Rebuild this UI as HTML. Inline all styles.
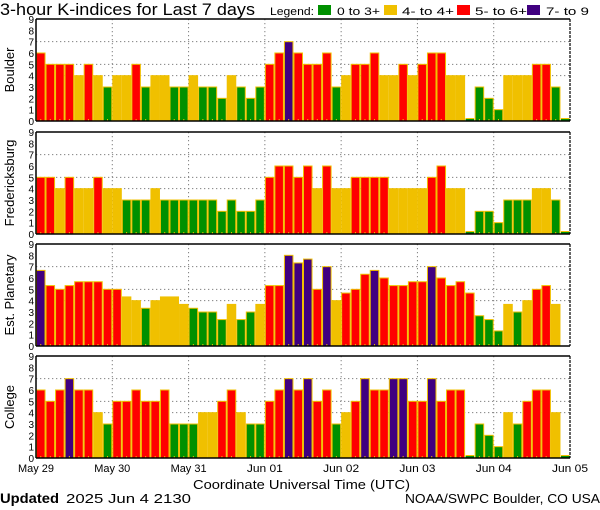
<!DOCTYPE html>
<html><head><meta charset="utf-8"><style>
html,body{margin:0;padding:0;background:#fff;width:600px;height:510px;overflow:hidden}
svg text{font-family:"Liberation Sans","DejaVu Sans",sans-serif;fill:#000}
</style></head><body>
<svg id="s" width="600" height="510" xmlns="http://www.w3.org/2000/svg">
<text x="0" y="15" font-size="17" textLength="255" lengthAdjust="spacingAndGlyphs">3-hour K-indices for Last 7 days</text>
<text x="270" y="15" font-size="11" textLength="44" lengthAdjust="spacingAndGlyphs">Legend:</text>
<rect x="318" y="5" width="13" height="10" fill="#009000"/><text x="337" y="15" font-size="11" textLength="43" lengthAdjust="spacingAndGlyphs">0 to 3+</text>
<rect x="384" y="5" width="13" height="10" fill="#f0c000"/><text x="402" y="15" font-size="11" textLength="52" lengthAdjust="spacingAndGlyphs">4- to 4+</text>
<rect x="457" y="5" width="13" height="10" fill="#ff0000"/><text x="475" y="15" font-size="11" textLength="52" lengthAdjust="spacingAndGlyphs">5- to 6+</text>
<rect x="527" y="5" width="13" height="10" fill="#400080"/><text x="546" y="15" font-size="11" textLength="43" lengthAdjust="spacingAndGlyphs">7- to 9</text>
<text x="193" y="489" font-size="13" textLength="217" lengthAdjust="spacingAndGlyphs">Coordinate Universal Time (UTC)</text>
<text x="0" y="503" font-size="14" font-weight="bold" font-family="Liberation Serif,serif" textLength="59" lengthAdjust="spacingAndGlyphs">Updated</text>
<text x="66" y="503" font-size="13" textLength="125" lengthAdjust="spacingAndGlyphs">2025 Jun  4 2130</text>
<text x="405" y="503" font-size="13" textLength="195" lengthAdjust="spacingAndGlyphs">NOAA/SWPC Boulder, CO USA</text>
</svg>
<script>
var s=document.getElementById('s'),NS='http://www.w3.org/2000/svg';
function el(t,a,txt){var e=document.createElementNS(NS,t);for(var k in a)e.setAttribute(k,a[k]);if(txt!=null)e.textContent=txt;s.appendChild(e);return e;}
var z=0.22;
var data=[
["Boulder",19,[6,5,5,5,4,5,4,3, 4,4,5,3,4,4,3,3, 4,3,3,2,4,3,2,3, 5,6,7,6,5,5,6,3, 4,5,5,6,4,4,5,4, 5,6,6,4,4,z,3,2, 1,4,4,4,5,5,3,z]],
["Fredericksburg",132,[5,5,4,5,4,4,5,4, 4,3,3,3,4,3,3,3, 3,3,3,2,3,2,2,3, 5,6,6,5,6,4,6,4, 4,5,5,5,5,4,4,4, 4,5,6,4,4,z,2,2, 1,3,3,3,4,4,3,z]],
["Est. Planetary",244,[6.67,5.33,5,5.33,5.67,5.67,5.67,5, 5,4.33,4,3.33,4,4.33,4.33,3.67, 3.33,3,3,2.33,3.67,2.33,3,3.67, 5.33,5.33,8,7.33,7.67,5,7,4, 4.67,5,6.33,6.67,6,5.33,5.33,5.67, 5.67,7,6,5.33,5.67,4.67,2.67,2.33, 1.33,3.67,3,4,5,5.33,3.67,0]],
["College",356,[6,5,6,7,6,6,4,3, 5,5,6,5,5,6,3,3, 3,4,4,5,6,4,3,3, 5,6,7,6,7,5,6,3, 4,5,7,6,6,7,7,5, 5,7,5,6,6,z,3,2, 1,4,3,5,6,6,4,z]]];
var x0=36,W=534,H=102,u=H/9,bw=W/56;
function col(v){return v<3.5?'#009000':v<4.5?'#f0c000':v<6.5?'#ff0000':'#400080';}
data.forEach(function(p){
 var top=p[1],bot=top+H;
 [4,5,7].forEach(function(k){var y=bot-k*u;el('line',{x1:x0,x2:x0+W,y1:y,y2:y,stroke:'#808080','stroke-dasharray':'1.3 2.7','stroke-width':1});});
 for(var d=1;d<7;d++){var x=x0+d*W/7;el('line',{x1:x,x2:x,y1:top,y2:bot,stroke:'#808080','stroke-dasharray':'1.3 2.7','stroke-width':1});}
 p[2].forEach(function(v,i){if(v<=0)return;var x=x0+i*bw,h=v*u;
  if(v<0.5){el('rect',{x:x+0.5,y:bot-h-0.5,width:bw-1,height:1,fill:'#f0c000'});el('rect',{x:x+0.5,y:bot-h+0.5,width:bw-1,height:h,fill:'#009000'});return;}
  el('rect',{x:x+0.5,y:bot-h,width:bw-1,height:h,fill:col(v),stroke:'#f0c000','stroke-width':1});
  el('line',{x1:x+bw/2,x2:x+bw/2,y1:bot-2,y2:bot,stroke:'#f0c000','stroke-width':1});});
 el('line',{x1:x0,x2:x0+W,y1:top,y2:top,stroke:'#000','stroke-width':1.5});
 el('line',{x1:x0,x2:x0+W,y1:bot,y2:bot,stroke:'#000','stroke-width':1.5});
 el('line',{x1:x0,x2:x0,y1:top,y2:bot,stroke:'#000','stroke-width':1.5});
 el('line',{x1:x0+W,x2:x0+W,y1:top,y2:bot,stroke:'#000','stroke-width':1.2,'stroke-dasharray':'3 1'});
 for(var k=0;k<=9;k++)el('text',{x:34,y:bot-k*u+4,'font-size':10,'text-anchor':'end'},String(k));
 var cy=top+H/2;
 el('text',{x:0,y:0,'font-size':13,'text-anchor':'middle',transform:'translate(14,'+cy+') rotate(-90)'},p[0]);
});
var labs=["May 29","May 30","May 31","Jun 01","Jun 02","Jun 03","Jun 04","Jun 05"];
labs.forEach(function(l,i){el('text',{x:x0+i*W/7-18,y:472,'font-size':11,textLength:36,lengthAdjust:'spacingAndGlyphs'},l);});
</script>
</body></html>
